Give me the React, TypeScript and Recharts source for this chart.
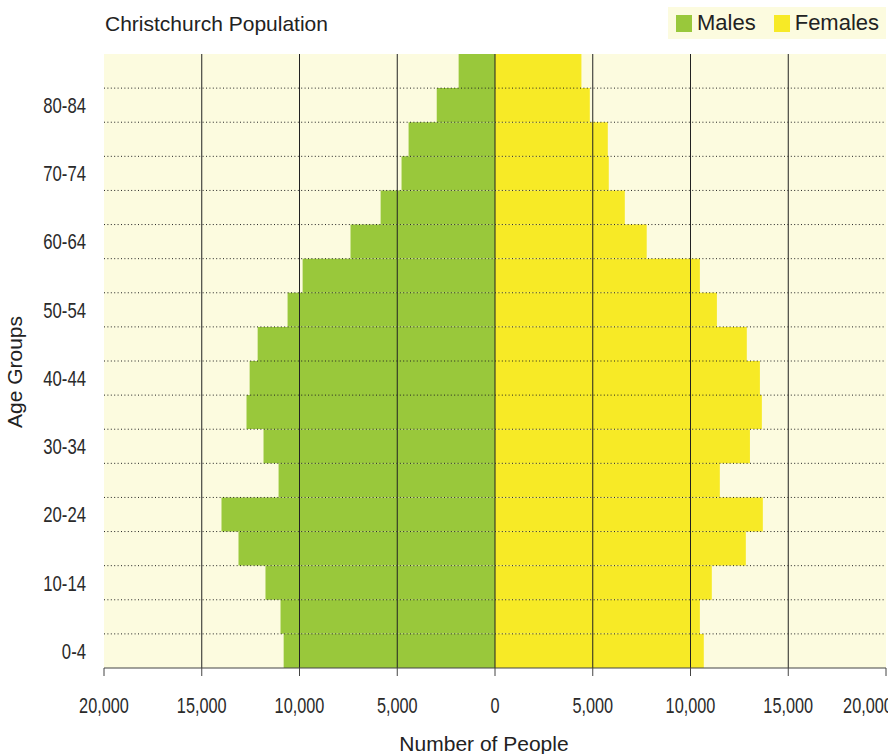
import React from 'react';
import {
    BarChart, Bar, XAxis, YAxis, CartesianGrid, Legend, Label
} from 'recharts';

const ageGroups = ['0-4', '5-9', '10-14', '15-19', '20-24', '25-29', '30-34', '35-39', '40-44',
    '45-49', '50-54', '55-59', '60-64', '65-69', '70-74', '75-79', '80-84', '85+'];
const males = [10810, 10970, 11740, 13120, 13990, 11070, 11840, 12710, 12550,
    12140, 10610, 9840, 7390, 5850, 4780, 4420, 2980, 1860];
const females = [10680, 10480, 11090, 12830, 13700, 11500, 13040, 13650, 13550,
    12880, 11350, 10480, 7760, 6640, 5820, 5770, 4850, 4420];
const xTicks = [-20000, -15000, -10000, -5000, 0, 5000, 10000, 15000, 20000];

const GREEN = '#99c83b';
const YELLOW = '#f7ea26';
const CREAM = '#fcfbdf';
const SANS = "'Liberation Sans', Arial, Helvetica, sans-serif";

// males drawn to the left of zero
const data = ageGroups.map((age, i) => ({ age, males: -males[i], females: females[i] }));

// condensed look for the tick labels
const XTick = ({ x, y, payload }: any) => (
    <g transform={`translate(${x},${y})`}>
        <text transform="scale(0.74,1)" textAnchor="middle" dy="0.71em" fontSize={22}
            fontFamily={SANS} fill="#2a2a2a">
            {Math.abs(payload.value).toLocaleString('en-US')}
        </text>
    </g>
);

const YTick = ({ x, y, payload }: any) => {
    if (ageGroups.indexOf(payload.value) % 2 !== 0) return <g />;
    return (
        <g transform={`translate(${x},${y})`}>
            <text transform="scale(0.76,1)" textAnchor="end" dy="0.355em" fontSize={22}
                fontFamily={SANS} fill="#2a2a2a">
                {payload.value}
            </text>
        </g>
    );
};

const LegendBox = () => (
    <div style={{
        display: 'flex', alignItems: 'center', background: CREAM, height: 32,
        padding: '0 8px', boxSizing: 'border-box', fontFamily: SANS, fontSize: 22, color: '#222'
    }}>
        {[{ name: 'Males', color: GREEN }, { name: 'Females', color: YELLOW }].map((it, i) => (
            <div key={it.name} style={{ display: 'flex', alignItems: 'center', marginLeft: i ? 18 : 0 }}>
                <span style={{ width: 16, height: 17, background: it.color, marginRight: 5, display: 'inline-block' }} />
                <span>{it.name}</span>
            </div>
        ))}
    </div>
);

const App: React.FC = () => {
    const n = ageGroups.length;
    return (
        <div style={{ position: 'absolute', left: 0, top: 0, width: 888, height: 754 }}>
            <div style={{
                position: 'absolute', left: 105, top: 13, fontFamily: SANS, fontSize: 21,
                lineHeight: '21px', color: '#222', whiteSpace: 'nowrap', zIndex: 2
            }}>
                Christchurch Population
            </div>
            <BarChart
                width={888}
                height={754}
                data={data}
                layout="vertical"
                stackOffset="sign"
                barCategoryGap={0}
                barGap={0}
                margin={{ top: 54, right: 2, bottom: 0, left: 0 }}
            >
                <CartesianGrid fill={CREAM} horizontal={false} vertical={false} />
                <Bar dataKey="males" name="Males" stackId="pop" fill={GREEN} isAnimationActive={false} />
                <Bar dataKey="females" name="Females" stackId="pop" fill={YELLOW} isAnimationActive={false} />
                <CartesianGrid
                    zIndex={400}
                    fill="none"
                    stroke="#222"
                    horizontalCoordinatesGenerator={({ offset }: any) =>
                        Array.from({ length: n - 1 }, (_, i) => offset.top + ((i + 1) * offset.height) / n)}
                    verticalCoordinatesGenerator={({ offset }: any) =>
                        xTicks.slice(1, -1).map(v => offset.left + ((v + 20000) / 40000) * offset.width)}
                    horizontal={(props: any) => (
                        <line key={props.key} x1={props.x1} x2={props.x2} y1={props.y1} y2={props.y2}
                            stroke="#222" strokeWidth={1} strokeDasharray="1 2.4" />
                    )}
                    vertical={(props: any) => (
                        <line key={props.key} x1={props.x1} x2={props.x2} y1={props.y1} y2={props.y2}
                            stroke="#222" strokeWidth={1} />
                    )}
                />
                <XAxis
                    type="number"
                    domain={[-20000, 20000]}
                    ticks={xTicks}
                    height={86}
                    stroke="#444"
                    tickSize={8}
                    tickMargin={21}
                    tick={<XTick />}
                >
                    <Label
                        content={({ viewBox }: any) => (
                            <text x={viewBox.x + viewBox.width / 2 - 11} y={750.5} textAnchor="middle"
                                fontSize={21} fontFamily={SANS} fill="#222">Number of People</text>
                        )}
                    />
                </XAxis>
                <YAxis
                    type="category"
                    dataKey="age"
                    reversed
                    width={104}
                    axisLine={false}
                    tickLine={false}
                    tickSize={8}
                    tickMargin={10}
                    interval={0}
                    tick={<YTick />}
                >
                    <Label
                        content={({ viewBox }: any) => {
                            const cy = viewBox.y + viewBox.height / 2 + 11;
                            return (
                                <text x={22} y={cy} transform={`rotate(-90, 22, ${cy})`} textAnchor="middle"
                                    fontSize={21} fontFamily={SANS} fill="#222">Age Groups</text>
                            );
                        }}
                    />
                </YAxis>
                <Legend
                    layout="vertical"
                    align="center"
                    verticalAlign="middle"
                    content={() => <LegendBox />}
                    wrapperStyle={{ top: 7, left: 668, width: 218, height: 32 }}
                />
            </BarChart>
        </div>
    );
};

export default App;
